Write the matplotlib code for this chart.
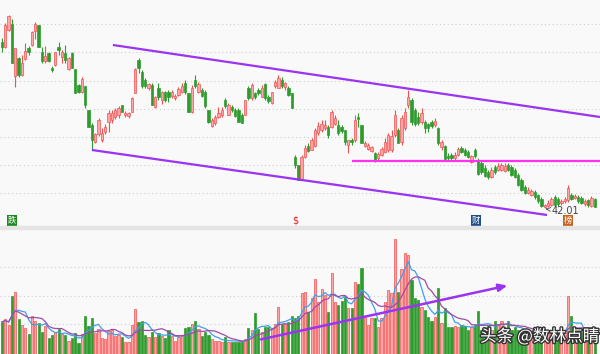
import numpy as np
import pandas as pd
import matplotlib
matplotlib.use("Agg")
import matplotlib.pyplot as plt
import matplotlib.patheffects as pe

# 日K数据 (开, 收, 高, 低)
opens = [58.6, 58.1, 59.8, 60.4, 55.2, 57.0, 55.3, 56.9, 58.0, 58.3,
         59.7, 60.3, 57.6, 56.7, 57.5, 56.0, 56.3, 58.1, 57.1, 57.5,
         55.9, 57.5, 55.9, 54.3, 53.6, 54.2, 51.8, 50.3, 48.6, 49.4,
         48.8, 49.6, 50.6, 50.8, 51.1, 51.3, 52.3, 51.3, 51.2, 51.6,
         53.5, 56.8, 55.6, 54.8, 54.0, 54.3, 52.1, 54.0, 52.8, 53.6,
         53.6, 53.2, 53.0, 53.3, 53.6, 54.5, 53.5, 51.6, 54.8,
         53.6, 53.8, 53.6, 51.8, 50.2, 50.5, 51.1, 51.3, 52.8, 51.3,
         52.1, 51.8, 51.8, 51.3, 51.3, 54.0, 53.0, 53.5, 53.8, 53.1,
         54.4, 53.1, 52.5, 54.2, 54.0, 54.8, 54.1, 54.0, 53.5, 47.1, 46.3,
         44.8, 47.1, 48.2, 47.8, 48.2, 49.5, 49.8, 50.0, 50.1, 50.1,
         50.4, 50.3, 50.1, 49.8, 48.3, 48.8, 48.8, 51.1, 50.3, 48.2,
         47.9, 47.7, 47.5, 47.0, 47.3, 47.6, 47.8, 47.8, 49.3, 49.8,
         48.6, 50.0, 52.3, 52.8, 51.8, 51.1, 50.6, 50.6, 50.4, 50.6,
         50.3, 50.0, 48.1, 48.2, 47.2, 47.3, 47.0, 47.3, 48.0, 47.8,
         47.6, 46.6, 47.8, 46.8, 46.5, 46.0, 45.6, 45.1, 46.1, 45.8,
         45.8, 45.7, 46.3, 46.1, 45.8, 45.3, 44.8, 44.1, 43.5, 43.3,
         43.6, 43.3, 42.9, 42.1, 42.2, 42.3, 43.1, 42.9, 42.5, 42.7,
         42.8, 43.3, 43.0, 43.1, 43.0, 42.4, 42.8, 42.2, 42.9]
closes = [58.1, 60.3, 61.2, 56.5, 58.0, 55.3, 56.5, 57.7, 57.6, 59.6,
          60.4, 58.1, 56.7, 57.2, 56.7, 55.8, 57.6, 57.8, 57.6, 56.8,
          57.0, 56.0, 53.5, 53.6, 54.9, 52.3, 50.1, 48.8, 49.4, 50.8,
          49.5, 50.1, 51.5, 51.5, 51.8, 52.0, 51.6, 51.5, 51.5, 53.0,
          55.9, 56.0, 54.2, 54.2, 54.4, 52.3, 53.1, 53.1, 53.6, 52.8,
          53.1, 53.6, 53.2, 53.9, 54.2, 53.6, 51.6, 54.0, 54.2,
          54.4, 53.2, 52.2, 50.6, 50.8, 51.1, 51.5, 51.8, 52.2, 52.3,
          51.8, 51.2, 50.6, 50.5, 52.8, 53.0, 54.3, 53.1, 53.5, 54.0,
          53.0, 52.7, 53.6, 54.6, 55.0, 54.2, 54.5, 53.3, 52.0, 46.3, 44.8,
          47.1, 48.0, 47.7, 48.8, 49.8, 50.2, 50.4, 50.3, 49.3, 51.6,
          51.0, 49.5, 49.7, 48.6, 48.8, 48.6, 50.8, 50.9, 48.5, 48.5,
          48.3, 48.1, 46.7, 47.4, 47.9, 48.6, 49.3, 49.2, 51.3, 48.5,
          51.0, 51.6, 53.1, 50.6, 50.4, 50.5, 51.5, 50.0, 50.0, 50.2,
          50.7, 48.5, 48.6, 46.9, 47.0, 47.0, 47.3, 47.9, 47.6, 47.3,
          47.1, 47.2, 47.2, 45.4, 45.6, 45.2, 45.1, 45.8, 45.6, 46.2,
          46.3, 46.2, 45.8, 45.3, 45.1, 44.3, 43.8, 43.5, 43.8, 43.7,
          43.1, 42.7, 42.2, 42.3, 42.5, 42.9, 42.3, 42.4, 42.7, 42.9,
          44.0, 42.9, 43.2, 42.7, 42.5, 42.7, 42.3, 43.0, 42.1]
highs = [59.0, 60.5, 61.3, 60.9, 58.0, 57.1, 57.3, 58.5, 58.2, 59.7,
         60.6, 60.3, 58.1, 58.2, 57.6, 56.2, 57.6, 58.6, 57.8, 58.3,
         57.1, 57.6, 55.9, 54.4, 55.1, 54.2, 51.8, 50.5, 49.5, 51.0,
         50.0, 50.4, 51.8, 51.8, 52.0, 52.2, 52.3, 51.7, 51.6, 53.1,
         56.0, 57.0, 55.8, 55.0, 54.5, 54.5, 53.2, 54.5, 53.7, 53.7,
         53.8, 53.8, 53.4, 54.1, 54.5, 54.8, 53.5, 54.3, 55.3,
         54.6, 54.0, 53.8, 51.8, 51.0, 51.3, 52.1, 52.1, 53.0, 52.5,
         52.3, 52.0, 52.0, 51.5, 52.8, 54.2, 54.5, 53.6, 54.0, 54.3,
         54.5, 53.3, 53.6, 54.8, 55.3, 55.1, 54.6, 54.2, 53.5, 47.3, 46.3,
         47.3, 48.3, 48.5, 49.0, 50.0, 50.6, 50.8, 50.8, 50.3, 51.8,
         51.3, 50.8, 50.3, 49.8, 48.8, 49.0, 51.3, 51.5, 50.3, 48.7,
         48.5, 48.2, 47.6, 47.6, 48.1, 49.0, 49.5, 49.8, 51.8, 50.0,
         51.3, 52.0, 53.8, 53.0, 52.0, 51.6, 52.0, 50.8, 50.5, 50.8,
         51.0, 50.1, 48.8, 48.3, 47.5, 47.5, 47.6, 48.1, 48.2, 48.0,
         47.8, 47.3, 48.0, 47.0, 46.8, 46.3, 45.8, 46.1, 46.3, 46.5,
         46.5, 46.5, 46.5, 46.3, 46.0, 45.5, 45.0, 44.3, 44.1, 43.9,
         43.8, 43.4, 43.1, 42.4, 42.8, 43.1, 43.3, 43.1, 42.9, 43.1,
         44.3, 43.5, 43.4, 43.3, 43.2, 42.9, 42.9, 43.2, 43.0]
lows = [57.6, 58.0, 59.7, 56.5, 54.1, 55.1, 55.2, 56.8, 57.3, 58.2,
        58.9, 58.1, 56.5, 56.5, 56.6, 55.6, 56.2, 57.3, 56.5, 56.5,
        55.8, 56.0, 53.5, 53.5, 53.5, 52.0, 50.1, 47.8, 48.5, 49.2,
        48.6, 49.4, 49.6, 50.5, 50.9, 51.0, 51.6, 51.1, 51.0, 51.6,
        53.5, 55.5, 54.0, 54.0, 53.8, 52.3, 52.0, 52.8, 52.4, 52.6,
        52.6, 53.0, 52.8, 53.2, 53.5, 53.4, 51.6, 51.5, 54.0,
        53.5, 53.1, 52.0, 50.5, 50.1, 50.3, 51.0, 51.1, 52.0, 51.3,
        51.6, 51.1, 50.6, 50.5, 51.3, 52.8, 52.8, 52.9, 53.3, 53.1,
        52.8, 52.5, 52.4, 54.0, 54.0, 54.0, 53.8, 53.2, 52.0, 46.0, 44.8,
        44.8, 47.0, 47.6, 47.8, 48.1, 49.3, 49.6, 49.8, 49.0, 50.0,
        50.3, 49.3, 49.5, 48.3, 47.5, 48.3, 48.6, 50.1, 48.5, 48.1,
        47.8, 47.6, 46.6, 46.8, 47.2, 47.5, 47.6, 47.6, 49.1, 48.5,
        48.3, 49.8, 52.0, 50.3, 50.2, 50.3, 50.4, 49.5, 49.6, 50.0,
        50.1, 48.3, 47.8, 46.8, 46.7, 46.8, 46.8, 47.2, 47.5, 47.2,
        47.0, 46.5, 47.0, 45.3, 45.4, 45.1, 44.9, 45.0, 45.4, 45.7,
        45.7, 45.6, 45.7, 45.2, 45.0, 44.2, 43.7, 43.4, 43.4, 43.2,
        42.9, 42.5, 42.1, 42.01, 42.1, 42.2, 42.1, 42.2, 42.3, 42.5,
        42.6, 42.8, 42.9, 42.5, 42.4, 42.2, 42.1, 42.1, 42.1]
volumes = [32, 35, 29, 58, 62, 35, 29, 26, 20, 38, 33, 31, 22, 28, 16, 19, 22, 25, 20, 19,
           13, 16, 21, 11, 20, 38, 28, 36, 21, 25,
           16, 15, 23, 24, 18, 19, 17, 12, 12, 29, 45, 32, 33, 19, 17, 22, 17, 21, 18, 16,
           24, 18, 13, 17, 18, 26, 27, 30, 33,
           25, 18, 22, 19, 15, 13, 13, 12, 17, 12, 12, 12, 12, 13, 15, 26, 24, 41, 25, 22,
           27, 27, 25, 30, 47, 30, 30, 32, 38, 36, 38,
           61, 62, 42, 56, 75, 52, 65, 59, 42, 81, 52, 49, 53, 57, 46, 46, 72, 70, 86, 37,
           29, 36, 36, 27, 36, 52, 64, 61, 115, 62,
           85, 101, 99, 74, 56, 54, 47, 44, 37, 33, 37, 66, 31, 46, 27, 27, 28, 27, 29, 28,
           24, 27, 29, 43, 24, 27, 29, 24, 33, 30,
           33, 26, 33, 24, 27, 24, 24, 22, 21, 22, 21, 21, 23, 22, 21, 22, 20, 22, 21, 21,
           58, 38, 18, 19, 22, 21, 20, 24, 18]

# 画线 (K线序号, 价格)
upper_line = [(33.3, 58.3), (179.6, 51.1)]
lower_line = [(27.0, 47.8), (163.7, 41.3)]
flat_line = [(105.1, 46.7), (179.6, 46.7)]
vol_arrow = [(76.9, 14), (152.6, 69)]
low_price = 42.01

o = np.array(opens); c = np.array(closes)
h = np.array(highs); l = np.array(lows)
v = np.array(volumes)
n = len(o)
x = np.arange(n)
up = c >= o

red_e, red_f = '#f25050', '#ffa6a6'
grn = '#2d9c2d'
bg = '#f9f9f9'

fig = plt.figure(figsize=(6, 3.54), dpi=100, facecolor=bg)
ax = fig.add_axes([0, 128 / 354, 1, 226 / 354], facecolor=bg)
axv = fig.add_axes([0, 0, 1, 125 / 354], facecolor=bg)

for a in (ax, axv):
    a.set_xlim(-0.6, 179.6)
    for s in a.spines.values():
        s.set_visible(False)
    a.set_xticks([]); a.set_yticks([])

ax.set_ylim(40.2, 62.8)
axv.set_ylim(0, 125)

for g in 43.47 + 2.82 * np.arange(7):
    ax.axhline(g, color='#cfcfcf', lw=0.8, ls=(0, (1, 2.5)), zorder=0)
for g in [29.7, 58.3, 86.7]:
    axv.axhline(g, color='#cfcfcf', lw=0.8, ls=(0, (1, 2.5)), zorder=0)

# 分隔条
fig.add_artist(plt.Rectangle((0, 125 / 354), 1, 3 / 354, transform=fig.transFigure,
                             color='#e4e4e4', zorder=5))

# K线
col_e = np.where(up, red_e, grn)
col_f = np.where(up, red_f, grn)
ax.vlines(x, l, h, colors=col_e, lw=0.8, zorder=2)
body_lo = np.minimum(o, c)
body_h = np.maximum(np.abs(c - o), 0.08)
ax.bar(x, body_h, bottom=body_lo, width=0.7, color=col_f, edgecolor=col_e,
       linewidth=0.5, zorder=3)

# 成交量
axv.bar(x, v, width=0.66, color=col_f, edgecolor=col_e, linewidth=0.5, zorder=2)
ma5 = pd.Series(v).rolling(5, min_periods=1).mean()
ma10 = pd.Series(v).rolling(10, min_periods=1).mean()
axv.plot(x, ma5, color='#3fa0ea', lw=0.9, zorder=3)
axv.plot(x, ma10, color='#a04aa8', lw=0.9, zorder=3)

# 通道线
for ln, colr in [(upper_line, '#9b33f2'), (lower_line, '#9b33f2'), (flat_line, '#ff30f0')]:
    xs, ys = zip(*ln)
    ax.plot(xs, ys, color=colr, lw=1.6, zorder=4, solid_capstyle='butt')

axv.annotate('', xy=vol_arrow[1], xytext=vol_arrow[0],
             arrowprops=dict(arrowstyle='-|>,head_length=0.5,head_width=0.22',
                             color='#9b33f2', lw=1.8), zorder=4)

# 最低价标注
imin = int(np.argmin(l))
ax.annotate(f'{low_price:.2f}', xy=(imin + 0.3, low_price - 0.1), xytext=(imin + 2.2, low_price - 0.35),
            fontsize=7, color='#444444', va='center',
            arrowprops=dict(arrowstyle='->', color='#444444', lw=0.6))

# 信息地雷标记
cjk = ['Noto Sans CJK SC', 'DejaVu Sans']
marks = [(3, '跌', '#1e8a1e'), (142.3, '财', '#1f4f8a'), (170, '榜', '#c9621e')]
for mx, t, bc in marks:
    ax.text(mx, 40.8, t, fontsize=6, color='white', ha='center', va='center', family=cjk,
            bbox=dict(boxstyle='square,pad=0.12', fc=bc, ec='none'), zorder=6)
ax.text(88, 40.8, '$', fontsize=7, color='#e52020', ha='center', va='center', zorder=6)

# 水印
fig.text(0.80, 17 / 354, '头条 @数林点睛', fontsize=12, color='white', family=cjk,
         ha='left', va='center', zorder=10,
         path_effects=[pe.withStroke(linewidth=2, foreground='#333333')])

fig.savefig('out.png', dpi=100, facecolor=bg)
